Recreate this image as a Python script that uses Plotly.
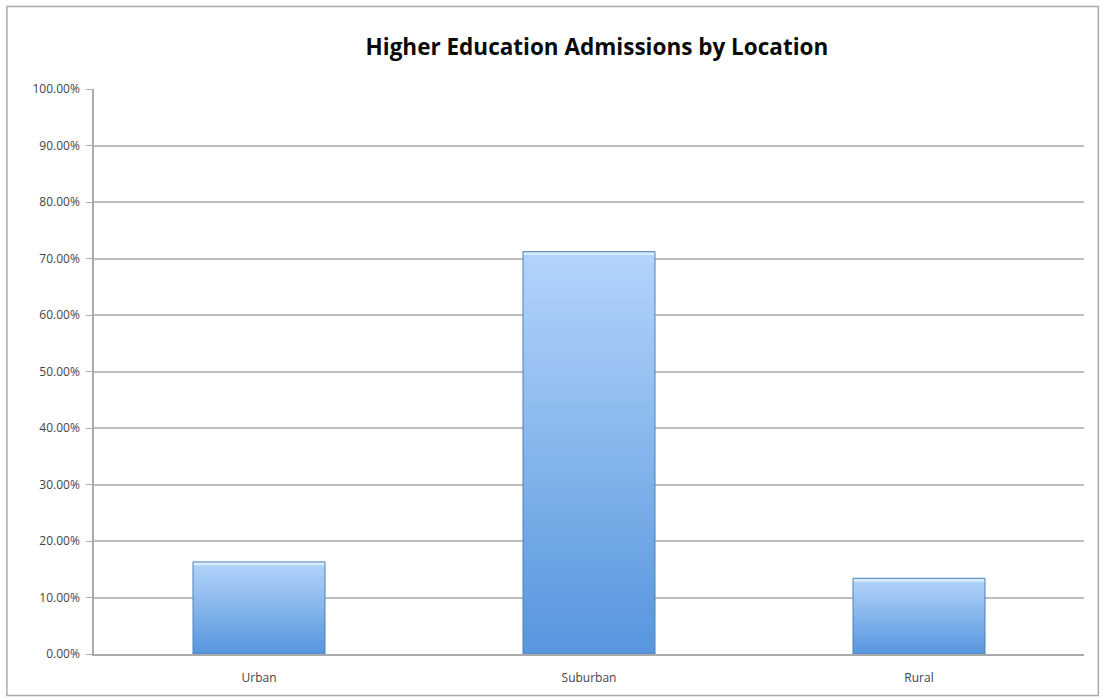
import plotly.graph_objects as go

categories = ["Urban", "Suburban", "Rural"]
values = [0.163, 0.712, 0.134]
y_ticks = [0.0, 0.1, 0.2, 0.3, 0.4, 0.5, 0.6, 0.7, 0.8, 0.9, 1.0]
y_tick_labels = ["0.00%", "10.00%", "20.00%", "30.00%", "40.00%", "50.00%",
                 "60.00%", "70.00%", "80.00%", "90.00%", "100.00%"]

N = 40
bottom = (88, 150, 222)
top = (178, 212, 250)

fig = go.Figure()
for i in range(N):
    t = i / (N - 1)
    c = tuple(round(bottom[k] + (top[k] - bottom[k]) * t) for k in range(3))
    fig.add_trace(go.Bar(
        x=categories,
        y=[v * (1 - i / N) for v in values],
        base=[v * i / N for v in values],
        width=0.4,
        marker=dict(color="rgb(%d,%d,%d)" % c, line=dict(width=0)),
        showlegend=False, hoverinfo="skip",
    ))
# top highlight band
fig.add_trace(go.Bar(
    x=categories, y=[0.006] * 3, base=[v - 0.006 for v in values], width=0.4,
    marker=dict(color="rgb(215,236,252)", line=dict(width=0)),
    showlegend=False, hoverinfo="skip",
))
# outline
fig.add_trace(go.Bar(
    x=categories, y=values, width=0.4,
    marker=dict(color="rgba(0,0,0,0)", line=dict(color="rgb(80,128,185)", width=1)),
    showlegend=False, hovertemplate="%{x}: %{y:.2%}<extra></extra>",
))

fig.update_layout(
    barmode="overlay",
    width=1103, height=698,
    margin=dict(l=94, r=19, t=89, b=44),
    paper_bgcolor="white", plot_bgcolor="white",
    title=dict(text="<b>Higher Education Admissions by Location</b>",
               xref="paper", x=0.508, xanchor="center", y=0.932, yanchor="middle",
               font=dict(family="Open Sans", size=22.5, color="#0a0a0a")),
    font=dict(family="Open Sans", size=11, color="#444"),
    shapes=[dict(type="rect", xref="paper", yref="paper",
                 x0=-0.088, x1=1.0145, y0=-0.0735, y1=1.146,
                 line=dict(color="#aaaaaa", width=1.5), fillcolor="rgba(0,0,0,0)",
                 layer="below")],
)
fig.update_xaxes(showgrid=False, showline=True, linecolor="#aaaaaa", linewidth=1.5,
                 ticks="", ticklabelstandoff=12, tickfont=dict(size=12, color="#444"))
fig.update_yaxes(range=[0, 1.0], tickvals=y_ticks, ticktext=y_tick_labels,
                 showgrid=True, gridcolor="#bdbdbd", gridwidth=1.5,
                 showline=True, linecolor="#aaaaaa", linewidth=1.5,
                 ticks="outside", ticklen=6, tickcolor="#aaaaaa",
                 ticklabelstandoff=4,
                 tickfont=dict(size=12, color="#444"), zeroline=False)

fig.write_html("out.html")
